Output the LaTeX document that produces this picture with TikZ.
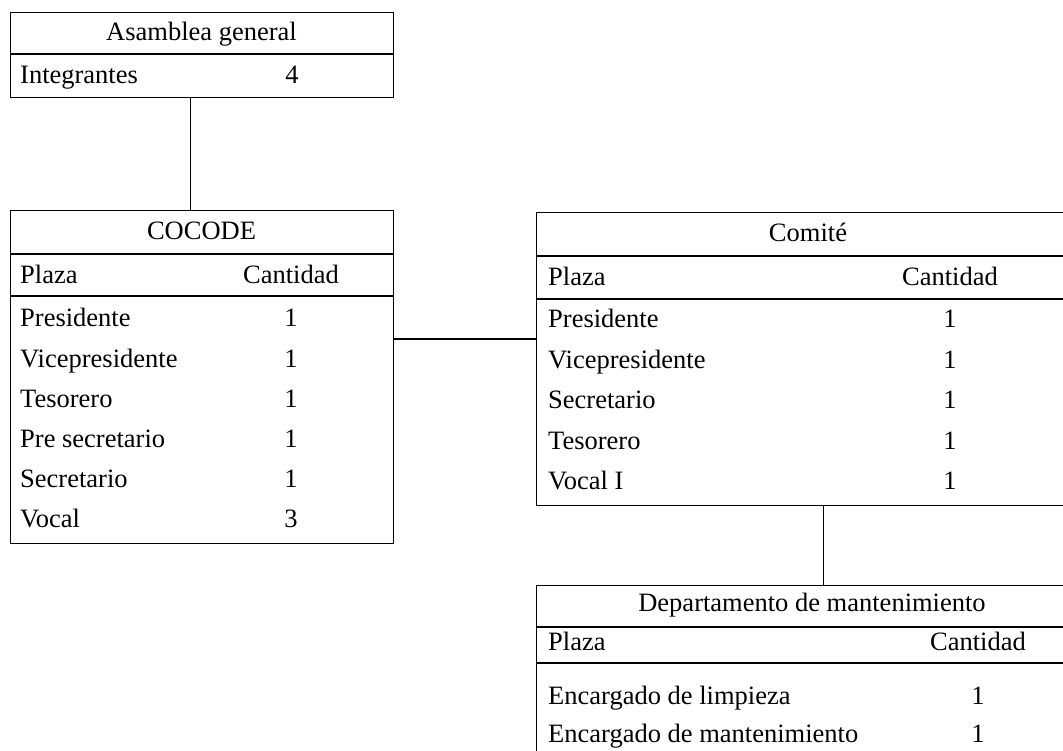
\documentclass[tikz,border=0pt]{standalone}
\usepackage{fontspec}
\setmainfont{Liberation Serif}
\usepackage{tikz}
\usetikzlibrary{positioning}

\begin{document}
\begin{tikzpicture}[x=1pt, y=-1pt,
			box/.style={draw=black, line width=1.1pt, rectangle, anchor=north west, inner sep=0pt},
			txt/.style={inner sep=0pt, yshift=-5pt, font=\fontsize{26.5}{30}\selectfont, text height=0.68em, text depth=0.22em},
			lft/.style={txt, anchor=west},
			line/.style={draw=black, line width=1.1pt},
		]
		
			\useasboundingbox (0,0) rectangle (1063,751);
			\clip (0,0) rectangle (1063,751);
			\fill[white] (0,0) rectangle (1063,751);
		
			%Boxes
			\node[box, minimum width=383pt, minimum height=85pt]	(asam)		at (10,12)	{};
			\node[box, minimum width=383pt, minimum height=333pt]	(cocode)	at (10,210)	{};
			\node[box, minimum width=573pt, minimum height=293pt]	(comite)	at (536,212)	{};
			\node[box, minimum width=573pt, minimum height=200pt]	(dept)		at (536,585)	{};
		
			%Asamblea general
			\node[txt]	(asamT)	at (201.5,33)	{Asamblea general};
			\node[lft]	(asam1)	at (20,76)	{Integrantes};
			\node[txt]	(asam1n)	at (292,76)	{4};
			\draw[line]	(asam.west |- 0,54) -- (asam.east |- 0,54);
		
			%COCODE
			\node[txt]	(cocodeT)	at (201.5,232)	{COCODE};
			\node[lft]	(cocodeP)	at (20,276)	{Plaza};
			\node[txt]	(cocodeC)	at (291,276)	{Cantidad};
			\node[lft]	(cocode1)	at (20,319)	{Presidente};
			\node[txt]	(cocode1n)	at (291,319)	{1};
			\node[lft]	(cocode2)	at (20,360)	{Vicepresidente};
			\node[txt]	(cocode2n)	at (291,360)	{1};
			\node[lft]	(cocode3)	at (20,400)	{Tesorero};
			\node[txt]	(cocode3n)	at (291,400)	{1};
			\node[lft]	(cocode4)	at (20,440)	{Pre secretario};
			\node[txt]	(cocode4n)	at (291,440)	{1};
			\node[lft]	(cocode5)	at (20,480)	{Secretario};
			\node[txt]	(cocode5n)	at (291,480)	{1};
			\node[lft]	(cocode6)	at (20,520)	{Vocal};
			\node[txt]	(cocode6n)	at (291,520)	{3};
			\draw[line]	(cocode.west |- 0,254) -- (cocode.east |- 0,254);
			\draw[line]	(cocode.west |- 0,296) -- (cocode.east |- 0,296);
		
			%Comite
			\node[txt]	(comiteT)	at (808,234)	{Comité};
			\node[lft]	(comiteP)	at (548,278)	{Plaza};
			\node[txt]	(comiteC)	at (950,278)	{Cantidad};
			\node[lft]	(comite1)	at (548,320)	{Presidente};
			\node[txt]	(comite1n)	at (950,320)	{1};
			\node[lft]	(comite2)	at (548,361)	{Vicepresidente};
			\node[txt]	(comite2n)	at (950,361)	{1};
			\node[lft]	(comite3)	at (548,401)	{Secretario};
			\node[txt]	(comite3n)	at (950,401)	{1};
			\node[lft]	(comite4)	at (548,442)	{Tesorero};
			\node[txt]	(comite4n)	at (950,442)	{1};
			\node[lft]	(comite5)	at (548,482)	{Vocal I};
			\node[txt]	(comite5n)	at (950,482)	{1};
			\draw[line]	(comite.west |- 0,256) -- (comite.east |- 0,256);
			\draw[line]	(comite.west |- 0,299) -- (comite.east |- 0,299);
		
			%Departamento
			\node[txt]	(deptT)	at (812,604)	{Departamento de mantenimiento};
			\node[lft]	(deptP)	at (548,643)	{Plaza};
			\node[txt]	(deptC)	at (978,643)	{Cantidad};
			\node[lft]	(dept1)	at (548,697)	{Encargado de limpieza};
			\node[txt]	(dept1n)	at (978,697)	{1};
			\node[lft]	(dept2)	at (548,735)	{Encargado de mantenimiento};
			\node[txt]	(dept2n)	at (978,735)	{1};
			\draw[line]	(dept.west |- 0,627) -- (dept.east |- 0,627);
			\draw[line]	(dept.west |- 0,663) -- (dept.east |- 0,663);
		
			%Lines
			\coordinate	(link)	at (0,339);
			\draw[line]	([xshift=-11.5pt]asam.south) -- ([xshift=-11.5pt]cocode.north);
			\draw[line]	(cocode.east |- link) -- (comite.west |- link);
			\draw[line]	(comite.south) -- (dept.north);
		
		\end{tikzpicture}
\end{document}
